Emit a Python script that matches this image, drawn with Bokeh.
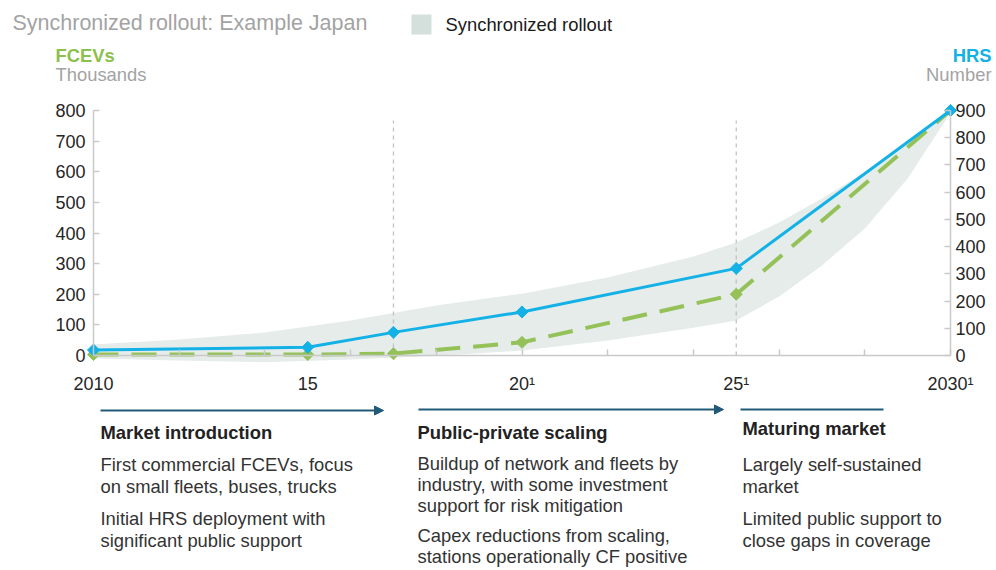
import numpy as np
from bokeh.plotting import figure
from bokeh.models import (Range1d, LinearAxis, FixedTicker, Label, Arrow,
                          NormalHead, BoxAnnotation)
from bokeh.embed import file_html
from bokeh.resources import INLINE

# ---------------- data ----------------
years = [2010, 2015, 2017, 2020, 2025, 2030]
hrs_stations = [20, 30, 85, 160, 320, 900]          # HRS, number (right axis)
fcev_thousands = [3, 3, 6, 43, 200, 800]             # FCEVs, thousands (left axis)

band_years = [2010, 2012, 2014, 2016, 2018, 2020, 2022, 2024, 2025, 2026, 2027, 2028, 2029, 2030]
band_upper = [36, 52, 75, 114, 163, 202, 255, 323, 369, 434, 513, 598, 692, 800]
band_lower = [-10, -16, -22, -13, -2, 16, 49, 91, 114, 193, 294, 415, 578, 793]

phase_bounds = [2017, 2025]

left_ticks = [0, 100, 200, 300, 400, 500, 600, 700, 800]
right_ticks = [0, 100, 200, 300, 400, 500, 600, 700, 800, 900]
x_label_ticks = [2010, 2015, 2020, 2025, 2030]
x_labels = ["2010", "15", "20\u00b9", "25\u00b9", "2030\u00b9"]
x_minor_ticks = [2012, 2014, 2016, 2018, 2020, 2022, 2024, 2026, 2028, 2030]

title_text = "Synchronized rollout: Example Japan"
legend_text = "Synchronized rollout"

phases = [
    ("Market introduction",
     [["First commercial FCEVs, focus", "on small fleets, buses, trucks"],
      ["Initial HRS deployment with", "significant public support"]]),
    ("Public-private scaling",
     [["Buildup of network and fleets by", "industry, with some investment", "support for risk mitigation"],
      ["Capex reductions from scaling,", "stations operationally CF positive"]]),
    ("Maturing market",
     [["Largely self-sustained", "market"],
      ["Limited public support to", "close gaps in coverage"]]),
]

# ---------------- styling ----------------
FONT = "Liberation Sans"
BLUE = "#13b1e6"
GREEN = "#95c159"
GREEN_TXT = "#8cc04d"
GRAY_TXT = "#a3a3a3"
AXIS = "#c9c9c9"
NAVY = "#215a79"
BAND = "#e5ecea"
LEG_SQ = "#d3e0dc"
BODY_SIZE = "18.4px"

W, H = 996, 570
# pixel geometry of the chart area
PX_L, PX_R = 93, 950     # x of 2010 and 2030
PY_0, PY_800 = 355, 110  # y of 0 and 800 (left axis)
px_per_year = (PX_R - PX_L) / 20.0
px_per_unit = (PY_0 - PY_800) / 800.0
HRS_FACTOR = 900 / 800.0


def dx(px):
    return 2010 + (px - PX_L) / px_per_year


def dy(py):
    return (PY_0 - py) / px_per_unit


p = figure(width=W, height=H, output_backend="svg", toolbar_location=None,
           x_range=Range1d(dx(0), dx(W)), y_range=Range1d(dy(H), dy(0)),
           x_axis_location=None, y_axis_location=None,
           min_border_left=0, min_border_right=0, min_border_top=0, min_border_bottom=0)
p.outline_line_color = None
p.xgrid.visible = False
p.ygrid.visible = False
p.background_fill_color = "white"
p.extra_y_ranges = {"hrs": Range1d(dy(H) * HRS_FACTOR, dy(0) * HRS_FACTOR)}

# axes
xaxis = LinearAxis(ticker=FixedTicker(ticks=x_label_ticks, minor_ticks=x_minor_ticks),
                   major_label_overrides={t: l for t, l in zip(x_label_ticks, x_labels)})
xaxis.fixed_location = 0
xaxis.bounds = (2010, 2030)
xaxis.major_tick_in = 0
xaxis.major_tick_out = 0
xaxis.minor_tick_in = 6
xaxis.minor_tick_out = 0
xaxis.minor_tick_line_color = AXIS
xaxis.major_label_standoff = 18
p.add_layout(xaxis, "below")

laxis = LinearAxis(ticker=FixedTicker(ticks=left_ticks, minor_ticks=[]))
laxis.fixed_location = 2010
laxis.bounds = (0, 800)
laxis.major_tick_in = 6
laxis.major_tick_out = 0
laxis.minor_tick_in = 0
laxis.minor_tick_out = 0
laxis.major_label_standoff = 8
p.add_layout(laxis, "left")

raxis = LinearAxis(y_range_name="hrs", ticker=FixedTicker(ticks=right_ticks, minor_ticks=[]))
raxis.fixed_location = 2030
raxis.bounds = (0, 900)
raxis.major_tick_in = 6
raxis.major_tick_out = 0
raxis.minor_tick_in = 0
raxis.minor_tick_out = 0
raxis.major_label_standoff = 5
p.add_layout(raxis, "right")

for ax in (xaxis, laxis, raxis):
    ax.axis_line_color = AXIS
    ax.axis_line_width = 1.5
    ax.major_tick_line_color = AXIS
    ax.major_tick_line_width = 1.5
    ax.minor_tick_line_width = 1.5
    ax.major_label_text_font = FONT
    ax.major_label_text_font_size = "18px"
    ax.major_label_text_color = "#262626"

# band
p.varea(x=band_years, y1=band_lower, y2=band_upper, fill_color=BAND, fill_alpha=1)

# phase boundaries
p.segment(x0=phase_bounds, y0=[0] * len(phase_bounds), x1=phase_bounds,
          y1=[dy(120)] * len(phase_bounds),
          line_color="#c2c2c2", line_dash="4 4", line_width=1.3)

# FCEV (dashed green)
p.line(years, fcev_thousands, line_color=GREEN, line_width=4, line_dash="25 13")
# HRS (solid blue)
p.line(years, hrs_stations, y_range_name="hrs", line_color=BLUE, line_width=3)
p.scatter(years, fcev_thousands, marker="square", angle=np.pi / 4, size=8.5,
          fill_color=GREEN, line_color=GREEN)
p.scatter(years, hrs_stations, y_range_name="hrs", marker="square", angle=np.pi / 4, size=8.5,
          fill_color=BLUE, line_color=BLUE)


def lab(text, px, py, size=BODY_SIZE, color="#333333", bold=False, align="left"):
    p.add_layout(Label(x=dx(px), y=dy(py), text=text, text_font=FONT,
                       text_font_size=size, text_color=color,
                       text_font_style="bold" if bold else "normal",
                       text_align=align, text_baseline="middle"))


# header
lab(title_text, 12, 22, size="21.5px", color=GRAY_TXT)
p.add_layout(BoxAnnotation(left=dx(411), right=dx(431), top=dy(14), bottom=dy(34),
                           fill_color=LEG_SQ, fill_alpha=1, line_color=None))
lab(legend_text, 445, 24, color="#1a1a1a")
lab("FCEVs", 55, 55, color=GREEN_TXT, bold=True)
lab("Thousands", 55, 74, color=GRAY_TXT)
lab("HRS", 991, 55, color=BLUE, bold=True, align="right")
lab("Number", 991, 74, color=GRAY_TXT, align="right")

# phase arrows
arrow_specs = [(100, 383, 410, True), (418, 723, 409, True), (740, 883, 409, False)]
for x0, x1, yy, head in arrow_specs:
    p.add_layout(Arrow(end=NormalHead(size=9, fill_color=NAVY, line_color=NAVY) if head else None,
                       x_start=dx(x0), y_start=dy(yy), x_end=dx(x1), y_end=dy(yy),
                       line_color=NAVY, line_width=2))

# phase texts (the middle block is a little tighter so its last line stays on the page)
block_x = [100, 417, 742]
head_y = [432, 432, 428]
body_start = [464, 463, 464]
line_gap = [22, 21, 22]
para_gap = [32, 30, 32]
for i, (heading, paras) in enumerate(phases):
    bx = block_x[i]
    lab(heading, bx, head_y[i], color="#222222", bold=True)
    yy = body_start[i]
    for para in paras:
        for line in para:
            lab(line, bx, yy)
            yy += line_gap[i]
        yy += para_gap[i] - line_gap[i]

open("out.html", "w").write(file_html(p, INLINE))
